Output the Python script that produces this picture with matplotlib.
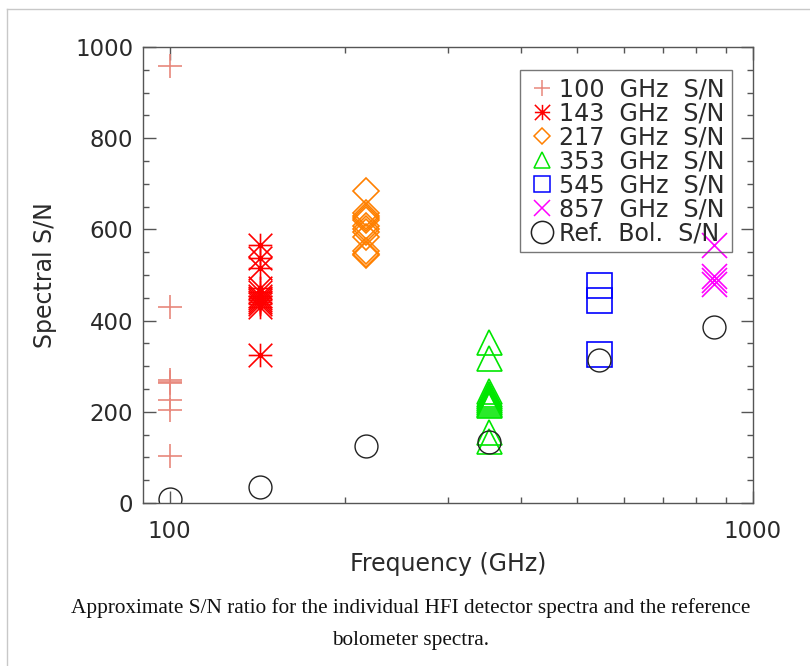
import matplotlib
matplotlib.use("Agg")
import matplotlib.pyplot as plt
from matplotlib.path import Path
from matplotlib.lines import Line2D
from matplotlib.ticker import FixedLocator, NullFormatter, MultipleLocator, FixedFormatter
import numpy as np

# ---------------- data ----------------
freq_ghz = [100, 143, 217, 353, 545, 857]
sn_100 = [958, 430, 269, 266, 263, 226, 204, 102]
sn_143 = [565, 537, 515, 472, 462, 455, 450, 446, 441, 436, 430, 325]
sn_217 = [685, 636, 630, 626, 620, 608, 600, 594, 583, 552, 546, 543]
sn_353 = [352, 317, 245, 240, 235, 230, 226, 222, 218, 214, 156, 137]
sn_545 = [479, 445, 326]
sn_857 = [565, 497, 488, 480]
ref_bol_sn = [8, 36, 125, 134, 313, 386]
series_labels = ["100  GHz  S/N", "143  GHz  S/N", "217  GHz  S/N", "353  GHz  S/N",
                 "545  GHz  S/N", "857  GHz  S/N", "Ref.  Bol.  S/N"]
x_major_ticks = [100, 1000]
x_tick_labels = ["100", "1000"]
y_major_ticks = [0, 200, 400, 600, 800, 1000]

# ---------------- style ----------------
plt.rcParams["font.family"] = ["DejaVu Sans"]
TEXT_COLOR = "#2a2a2a"

ast_path = Path([(-1, 0), (1, 0), (0, -1), (0, 1), (-1, -1), (1, 1), (-1, 1), (1, -1)],
                [Path.MOVETO, Path.LINETO] * 4)

styles = [
    dict(marker="+", color="#E8877C", ms=17, lms=11),
    dict(marker=ast_path, color="#FF0000", ms=17, lms=11),
    dict(marker="D", color="#FF8000", ms=13, lms=8),
    dict(marker="^", color="#00E600", ms=18, lms=11.5),
    dict(marker="s", color="#0000FF", ms=18, lms=11),
    dict(marker="x", color="#FF00FF", ms=18, lms=11),
    dict(marker="o", color="#222222", ms=16.5, lms=16),
]

fig = plt.figure(figsize=(8.1, 6.66), dpi=100)
ax = fig.add_axes([143 / 810, 1 - 503 / 666, 610 / 810, 456 / 666])
ax.set_xscale("log")
ax.set_xlim(90, 1000)
ax.set_ylim(0, 1000)

all_series = [sn_100, sn_143, sn_217, sn_353, sn_545, sn_857]
for f, vals, st in zip(freq_ghz, all_series, styles[:6]):
    ax.plot(np.full(len(vals), f), vals, linestyle="none", marker=st["marker"],
            markersize=st["ms"], markeredgecolor=st["color"], markerfacecolor="none",
            markeredgewidth=1.2)
ax.plot(freq_ghz, ref_bol_sn, linestyle="none", marker="o", markersize=styles[6]["ms"],
        markeredgecolor=styles[6]["color"], markerfacecolor="none", markeredgewidth=1.0)

handles = []
for lab, st in zip(series_labels, styles):
    handles.append(Line2D([], [], linestyle="none", marker=st["marker"], markersize=st["lms"],
                          markeredgecolor=st["color"], markerfacecolor="none",
                          markeredgewidth=1.1, label=lab))

leg = ax.legend(handles=handles, loc="upper left", bbox_to_anchor=(0.618, 0.9496),
                fontsize=17.1, frameon=True, fancybox=False, borderpad=0.3,
                handlelength=1.25, handletextpad=0.1, labelspacing=0.0,
                borderaxespad=0.0, edgecolor="#555555", facecolor="none")
leg.get_frame().set_linewidth(1.0)
for t in leg.get_texts():
    t.set_color(TEXT_COLOR)

# ticks
ax.xaxis.set_major_locator(FixedLocator(x_major_ticks))
ax.xaxis.set_major_formatter(FixedFormatter(x_tick_labels))
ax.xaxis.set_minor_locator(FixedLocator([200, 300, 400, 500, 600, 700, 800, 900]))
ax.xaxis.set_minor_formatter(NullFormatter())
ax.yaxis.set_major_locator(FixedLocator(y_major_ticks))
ax.yaxis.set_minor_locator(MultipleLocator(50))
ax.tick_params(which="both", direction="in", top=True, right=True,
               color="#555555", width=1.0, labelsize=16.5, labelcolor=TEXT_COLOR)
ax.tick_params(which="major", length=9)
ax.tick_params(which="minor", length=4.5)
ax.tick_params(axis="x", which="major", pad=12)
ax.tick_params(axis="y", which="major", pad=7)
for sp in ax.spines.values():
    sp.set_color("#555555")
    sp.set_linewidth(1.0)

ax.set_xlabel("Frequency (GHz)", fontsize=17, color=TEXT_COLOR, labelpad=7)
ax.set_ylabel("Spectral S/N", fontsize=17, color=TEXT_COLOR, labelpad=13)

# caption
fig.text(411 / 810, 1 - 608 / 666,
         "Approximate S/N ratio for the individual HFI detector spectra and the reference",
         family=["Liberation Serif"], fontsize=15.3, ha="center", va="center",
         color="#111111")
fig.text(411 / 810, 1 - 640 / 666, "bolometer spectra.",
         family=["Liberation Serif"], fontsize=15.3, ha="center", va="center",
         color="#111111")

# outer frame
fig.add_artist(Line2D([7 / 810, 7 / 810], [0, 1 - 9 / 666], transform=fig.transFigure,
                      color="#C8C8C8", linewidth=1.0))
fig.add_artist(Line2D([7 / 810, 1], [1 - 9 / 666, 1 - 9 / 666], transform=fig.transFigure,
                      color="#C8C8C8", linewidth=1.0))

fig.savefig("out.png", dpi=100, facecolor="white")
